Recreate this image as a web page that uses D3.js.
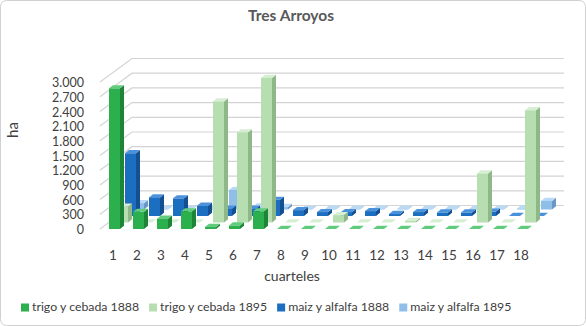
<!DOCTYPE html>
<html><head><meta charset="utf-8">
<script src="https://cdn.jsdelivr.net/npm/d3@7"></script>
<style>body{margin:0;background:#fff} svg{display:block} text{font-family:Lato,'Liberation Sans',sans-serif}</style>
</head><body><svg id="c" width="586" height="326"></svg>
<script>
const categories = ["1","2","3","4","5","6","7","8","9","10","11","12","13","14","15","16","17","18"];
const seriesNames = ["trigo y cebada 1888","trigo y cebada 1895","maiz y alfalfa 1888","maiz y alfalfa 1895"];
const trigo1888 = [2870, 350, 210, 360, 40, 70, 360, 0, 0, 0, 0, 0, 0, 0, 0, 0, 0, 0];
const trigo1895 = [320, 0, 0, 0, 2470, 1840, 2950, 0, 0, 150, 0, 0, 30, 0, 0, 1000, 0, 2290];
const maiz1888  = [1280, 380, 360, 210, 150, 150, 330, 120, 80, 80, 100, 40, 80, 70, 70, 90, 0, 0];
const maiz1895  = [130, 10, 10, 10, 400, 60, 50, 10, 10, 10, 10, 10, 10, 10, 10, 10, 20, 175];
const yTicks = [0,300,600,900,1200,1500,1800,2100,2400,2700,3000];
const title = "Tres Arroyos", xTitle = "cuarteles", yTitle = "ha";
const frontCol = ["#2bb04d","#b7deb0","#1c6ec1","#8fbfe9"];
const sideCol  = ["#1d8438","#8fb889","#134f91","#6a98c6"];
const topCol   = ["#62cc7e","#d6eed2","#4b92dc","#b9d9f4"];

const series = [trigo1888, trigo1895, maiz1888, maiz1895];
const svg = d3.select("#c");
const fmt = d3.formatLocale({decimal:",",thousands:".",grouping:[3],currency:["",""]}).format(",");

svg.append("rect").attr("x",0.5).attr("y",0.5).attr("width",585).attr("height",325).attr("rx",6)
  .attr("fill","#fff").attr("stroke","#d0d0d0");

const x = d3.scaleBand().domain(categories).range([103, 535]);
const y = d3.scaleLinear().domain([0,3000]).range([229, 82]);
const rowDx = d3.scaleLinear().domain([0,3]).range([0,24]);
const rowDy = d3.scaleLinear().domain([0,3]).range([0,-19.5]);
const wallDx = 32, wallDy = -23.5, wallLeft = 100, wallRight = 564;
const barW = 11, barDx = 4, barDy = -3.2;

// walls gridlines
const g = svg.append("g").attr("stroke","#d4d4d4").attr("stroke-width",1.2).attr("fill","none");
yTicks.forEach(t=>{
  const yy = y(t);
  g.append("path").attr("d",`M${wallLeft},${yy}L${wallLeft+wallDx},${yy+wallDy}L${wallRight},${yy+wallDy}`);
});

// bars, back row first
for (let s = 3; s >= 0; s--) {
  const gs = svg.append("g");
  categories.forEach((c,i)=>{
    const v = series[s][i];
    const x0 = x(c) + 6 + rowDx(s);
    const yb = y(0) + rowDy(s);
    const yt = yb - (y(0) - y(v));
    const x1 = x0 + barW;
    gs.append("path").attr("d",`M${x1},${yb}L${x1+barDx},${yb+barDy}L${x1+barDx},${yt+barDy}L${x1},${yt}Z`).attr("fill",sideCol[s]);
    gs.append("path").attr("d",`M${x0},${yt}L${x0+barDx},${yt+barDy}L${x1+barDx},${yt+barDy}L${x1},${yt}Z`).attr("fill",topCol[s]);
    if (v > 0) gs.append("rect").attr("x",x0).attr("y",yt).attr("width",barW).attr("height",yb-yt).attr("fill",frontCol[s]);
  });
}

// y tick labels
svg.append("g").selectAll("text").data(yTicks).join("text")
  .attr("x",84).attr("y",d=>y(d)+2).attr("text-anchor","end").attr("dominant-baseline","middle")
  .attr("font-size",12.5).attr("fill","#404040").text(d=>fmt(d));

// category labels
svg.append("g").selectAll("text").data(categories).join("text")
  .attr("x",d=>x(d)+10).attr("y",257).attr("text-anchor","middle").attr("dominant-baseline","middle")
  .attr("font-size",13.5).attr("fill","#404040").text(d=>d);

svg.append("text").attr("x",291).attr("y",17).attr("text-anchor","middle").attr("dominant-baseline","middle")
  .attr("font-size",15.5).attr("font-weight","bold").attr("fill","#595959").text(title);
svg.append("text").attr("x",292).attr("y",277).attr("text-anchor","middle").attr("dominant-baseline","middle")
  .attr("font-size",14).attr("fill","#404040").text(xTitle);
svg.append("text").attr("transform","translate(14,130) rotate(-90)").attr("text-anchor","middle").attr("dominant-baseline","middle")
  .attr("font-size",15).attr("fill","#404040").text(yTitle);

// legend
let lx = 21;
seriesNames.forEach((n,i)=>{
  svg.append("rect").attr("x",lx).attr("y",303.5).attr("width",8).attr("height",8).attr("fill",frontCol[i]);
  const t = svg.append("text").attr("x",lx+11).attr("y",308).attr("dominant-baseline","middle")
    .attr("font-size",12.3).attr("fill","#404040").text(n);
  lx += 11 + t.node().getComputedTextLength() + 10;
});
</script></body></html>
